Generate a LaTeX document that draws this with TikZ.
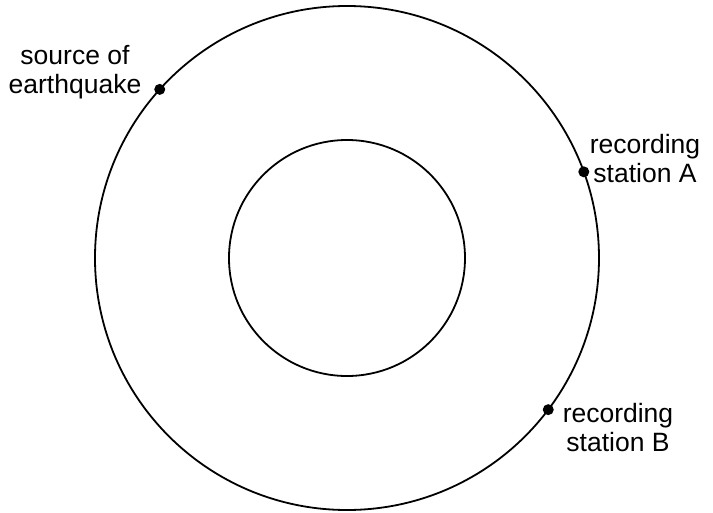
\documentclass[tikz,border=0pt]{standalone}
\usepackage{fontspec}
\setmainfont{Liberation Sans}
\usetikzlibrary{positioning}
\tikzset{
  ring/.style={draw,circle,line width=1.8pt,inner sep=0pt,outer sep=0pt},
  dot/.style={fill,circle,inner sep=0pt,minimum size=11pt},
  lbl/.style={align=center,inner sep=0pt,font=\fontsize{26.5}{29}\selectfont}
}
\begin{document}
\begin{tikzpicture}[x=1pt,y=1pt]
  \useasboundingbox (-347,-254) rectangle (366,258);
  \node[ring,minimum size=504pt] (earth) at (0,0) {};
  \node[ring,minimum size=236pt] (core) at (0,0) {};
  \node[dot] (src) at (earth.138.5) {};
  \node[dot] (stA) at (earth.20) {};
  \node[dot] (stB) at (earth.-37.1) {};
  \node[lbl,anchor=north] (srclbl) at (-272,213) {source of\\earthquake};
  \node[lbl,anchor=north] (lblA) at (298,124) {recording\\station A};
  \node[lbl,anchor=north] (lblB) at (271,-145) {recording\\station B};
\end{tikzpicture}
\end{document}
